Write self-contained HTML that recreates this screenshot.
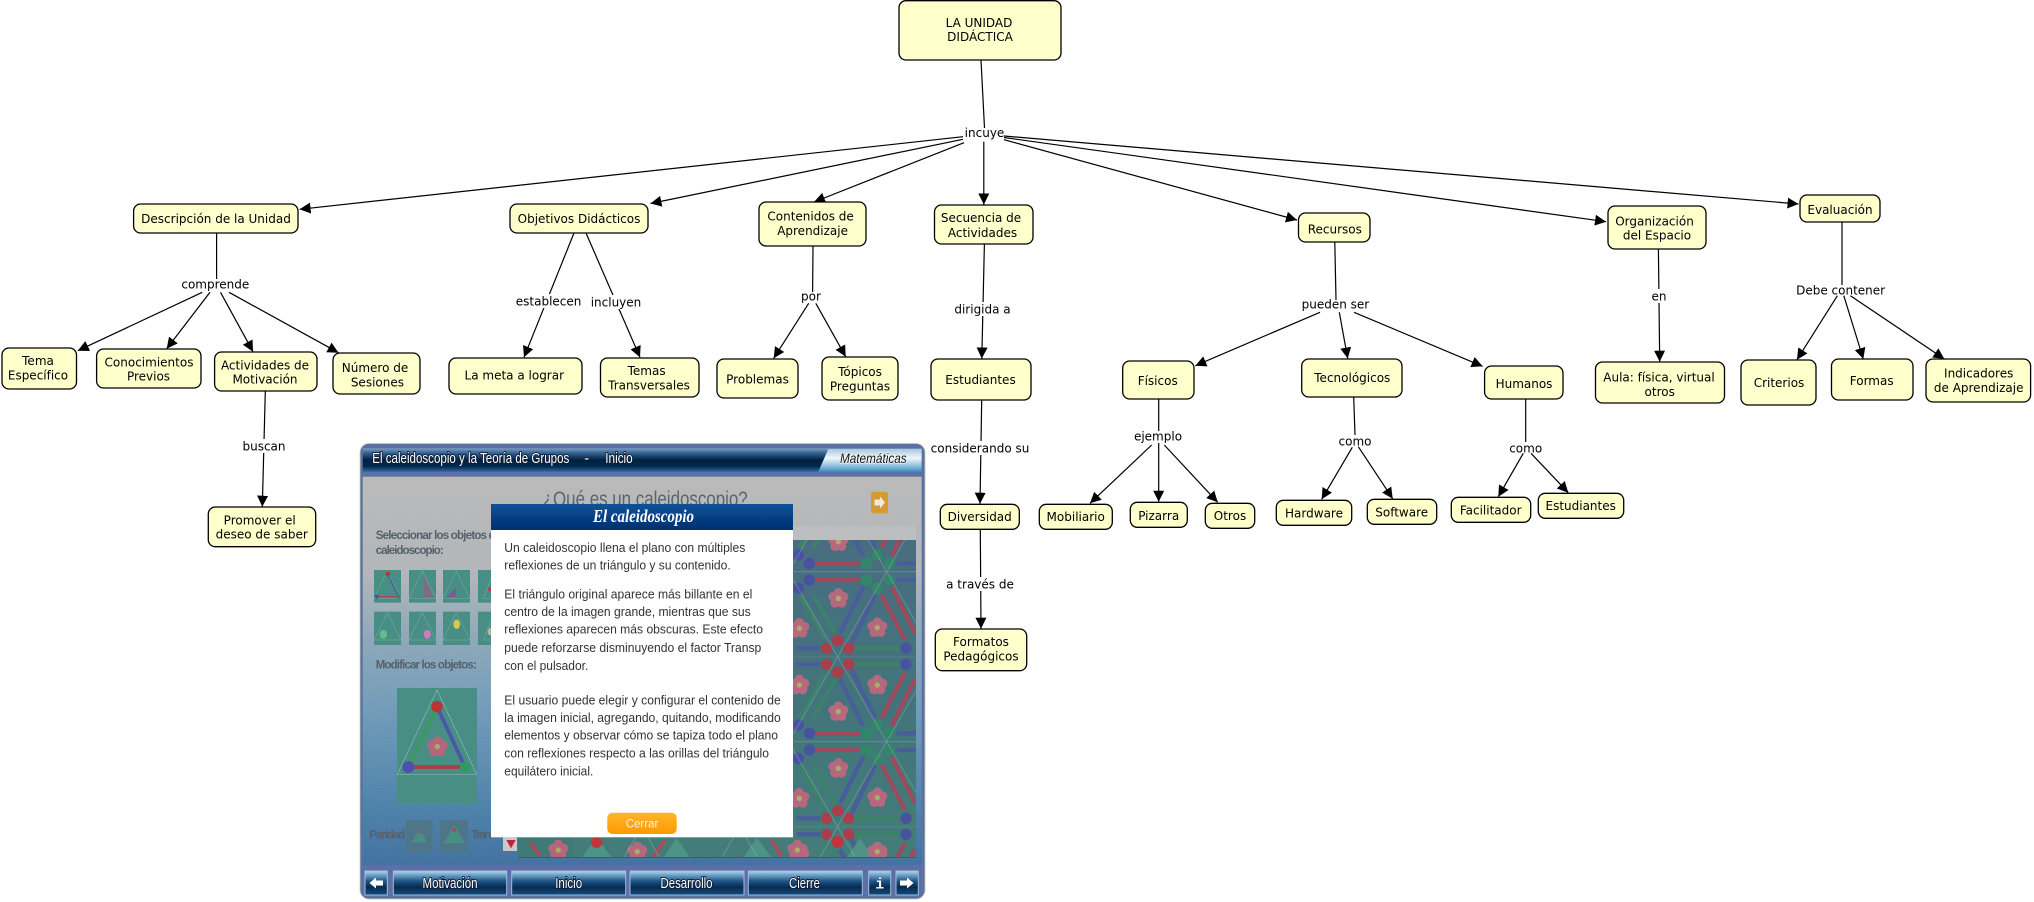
<!DOCTYPE html>
<html lang="es"><head><meta charset="utf-8"><title>La Unidad Didáctica</title>
<style>
html,body{margin:0;padding:0;background:#fff;width:2034px;height:902px;overflow:hidden}
svg{display:block}
.n rect{fill:#ffffcc;stroke:#000;stroke-width:1.3}
.t text{font-family:"DejaVu Sans",sans-serif;font-size:12px;fill:#000;text-anchor:middle}
.l line{stroke:#000;stroke-width:1.2}
.a line{stroke:#000;stroke-width:1.2;marker-end:url(#ah)}
.m text{font-family:"Liberation Sans",sans-serif;font-size:13px;fill:#333}
.g text{font-family:"Liberation Sans",sans-serif;font-size:11.5px;font-weight:bold;fill:#56616b}
.w text{font-family:"Liberation Sans",sans-serif;font-size:14.5px;fill:#fff;stroke:#0b1f38;stroke-width:1.8;paint-order:stroke;text-anchor:middle}
</style></head><body>
<svg xmlns="http://www.w3.org/2000/svg" width="2034" height="902" viewBox="0 0 2034 902">
<defs>
<filter id="sf" x="-2%" y="-2%" width="104%" height="104%"><feGaussianBlur stdDeviation=".35"/></filter>
<marker id="ah" markerUnits="userSpaceOnUse" markerWidth="12" markerHeight="12" refX="11" refY="5.5" orient="auto"><path d="M0 0L11 5.5L0 11z" fill="#000"/></marker>
<linearGradient id="hd" x1="0" y1="0" x2="0" y2="1"><stop offset="0" stop-color="#7c9fc2"/><stop offset=".22" stop-color="#2f5d8f"/><stop offset=".5" stop-color="#04223f"/><stop offset=".78" stop-color="#052a50"/><stop offset="1" stop-color="#2a6aa8"/></linearGradient>
<linearGradient id="mt" x1="0" y1="0" x2="0" y2="1"><stop offset="0" stop-color="#a9c8de"/><stop offset=".4" stop-color="#f0f6fa"/><stop offset=".75" stop-color="#8ec0dc"/><stop offset="1" stop-color="#3a8fc0"/></linearGradient>
<linearGradient id="ct" x1="0" y1="0" x2="0" y2="1"><stop offset="0" stop-color="#b8b8b8"/><stop offset=".25" stop-color="#b0b5b8"/><stop offset=".4" stop-color="#8fa8b8"/><stop offset=".6" stop-color="#6f9ab8"/><stop offset=".85" stop-color="#4c80a8"/><stop offset="1" stop-color="#3f6fa0"/></linearGradient>
<linearGradient id="bt" x1="0" y1="0" x2="0" y2="1"><stop offset="0" stop-color="#bcd6ea"/><stop offset=".12" stop-color="#7fb0d2"/><stop offset=".42" stop-color="#1d5587"/><stop offset=".68" stop-color="#062a4e"/><stop offset="1" stop-color="#114d80"/></linearGradient>
<linearGradient id="md" x1="0" y1="0" x2="0" y2="1"><stop offset="0" stop-color="#0d5299"/><stop offset="1" stop-color="#002f70"/></linearGradient>
<linearGradient id="or" x1="0" y1="0" x2="0" y2="1"><stop offset="0" stop-color="#ffb52c"/><stop offset="1" stop-color="#ff9a00"/></linearGradient>
<linearGradient id="kb" x1="0" y1="0" x2="0" y2="1"><stop offset="0" stop-color="#456b7e"/><stop offset=".5" stop-color="#3e7279"/><stop offset="1" stop-color="#3f7a76"/></linearGradient>
<pattern id="hatch" patternUnits="userSpaceOnUse" width="3" height="3"><path d="M0 3L3 0" stroke="#fff" stroke-opacity=".08" stroke-width=".7"/></pattern>
<pattern id="wl" patternUnits="userSpaceOnUse" x="5" y="155" width="294" height="510"><path d="M0 510L294 0M0 0L294 510M0 0H294M0 255H294" stroke="#c9dcdc" stroke-opacity=".3" stroke-width="2.5" fill="none"/></pattern>
<clipPath id="kc"><rect x="518" y="540" width="398" height="317.7"/></clipPath>
<g id="fl"><g fill="#b5667c"><circle cx="0" cy="-17" r="14"/><circle cx="16" cy="-5" r="14"/><circle cx="10" cy="14" r="14"/><circle cx="-10" cy="14" r="14"/><circle cx="-16" cy="-5" r="14"/></g><circle r="8" fill="#a9ac62"/></g>
<g id="per">
<g stroke-width="13" stroke-linecap="butt">
<path stroke="#9c4658" d="M525 385H660M525 435H660M725 480L795 615M755 455L825 595M725 848L795 713M755 873L825 733"/>
<path stroke="#465a98" d="M770 385H860M770 435H860M470 640H540M470 688H540M600 595L670 455M635 625L705 480M600 733L670 873M635 703L705 848"/>
<path stroke="#387f68" d="M645 640H785M645 688H785M480 480L555 610M520 480L585 595M480 848L555 718M520 848L585 733"/>
</g>
<g fill="#464f9c"><circle cx="508" cy="385" r="17"/><circle cx="508" cy="435" r="17"/><circle cx="475" cy="360" r="17"/><circle cx="475" cy="460" r="17"/><circle cx="798" cy="640" r="17"/><circle cx="798" cy="688" r="17"/></g>
<g fill="#2f8468"><circle cx="680" cy="385" r="17"/><circle cx="680" cy="435" r="17"/><circle cx="712" cy="360" r="17"/><circle cx="712" cy="460" r="17"/><circle cx="748" cy="385" r="17"/><circle cx="748" cy="435" r="17"/></g>
<g fill="#a83a4a"><circle cx="593" cy="617" r="17"/><circle cx="560" cy="640" r="17"/><circle cx="626" cy="640" r="17"/><circle cx="560" cy="688" r="17"/><circle cx="626" cy="688" r="17"/><circle cx="593" cy="712" r="17"/></g>
<use href="#fl" x="595" y="490"/><use href="#fl" x="478" y="580"/><use href="#fl" x="712" y="578"/><use href="#fl" x="478" y="750"/><use href="#fl" x="712" y="750"/><use href="#fl" x="595" y="830"/>
</g>
</defs>
<rect width="2034" height="902" fill="#fff"/>

<!-- panel -->
<g filter="url(#sf)">
<rect x="360" y="443.5" width="565" height="455.5" rx="9" fill="#5b70a8" stroke="#c8cfa0" stroke-width=".8"/>
<rect x="362.7" y="448.3" width="559" height="23.4" fill="url(#hd)"/>
<polygon points="818.3,471.7 828.3,449 921.7,449 921.7,471.7" fill="url(#mt)"/>
<rect x="362.7" y="476.7" width="559" height="388.3" fill="url(#ct)"/>
<rect x="362.7" y="476.7" width="559" height="388.3" fill="url(#hatch)"/>
<g class="w"><text x="470.8" y="463" textLength="197" lengthAdjust="spacingAndGlyphs">El caleidoscopio y la Teoría de Grupos</text><text x="586.7" y="463">-</text><text x="619" y="463" textLength="27.4" lengthAdjust="spacingAndGlyphs">Inicio</text></g>
<text x="873.3" y="463" textLength="66.7" lengthAdjust="spacingAndGlyphs" text-anchor="middle" font-family="Liberation Sans" font-style="italic" font-size="14" fill="#111" stroke="#fff" stroke-width="1.2" paint-order="stroke">Matemáticas</text>
<text x="542.7" y="506" textLength="205" lengthAdjust="spacingAndGlyphs" font-family="Liberation Sans" font-size="21" fill="#5a656e">¿Qué es un caleidoscopio?</text>
<rect x="871" y="491.7" width="17" height="21.6" rx="2.5" fill="#d69a35"/>
<path d="M874.5 499.5H880V496.5L885 502.5L880 508.5V505.5H874.5z" fill="#f2e8d8"/>
<rect x="793" y="526" width="123" height="14" fill="#c3c3c3" opacity=".5"/>
<g class="g"><text x="375.7" y="539" textLength="120" lengthAdjust="spacing">Seleccionar los objetos d</text><text x="375.7" y="554" textLength="68" lengthAdjust="spacing">caleidoscopio:</text><text x="375.7" y="668.5" textLength="101" lengthAdjust="spacing">Modificar los objetos:</text><text x="369.3" y="838.5" textLength="36" lengthAdjust="spacing">Paridad</text><text x="471.3" y="838.5" textLength="20" lengthAdjust="spacing">Tran</text></g>
<g transform="translate(350 435) scale(.33333)">
<g fill="#4a8e85"><rect x="72" y="405" width="81" height="98"/><rect x="177" y="405" width="81" height="98"/><rect x="279" y="405" width="81" height="98"/><rect x="384" y="405" width="39" height="98"/><rect x="72" y="530" width="81" height="100"/><rect x="177" y="530" width="81" height="100"/><rect x="279" y="530" width="81" height="100"/><rect x="384" y="530" width="39" height="100"/></g>
<g fill="none" stroke="#a8c8c0" stroke-width="1.4" stroke-opacity=".6"><path d="M112 408L72 490H153z"/><path d="M217 408L177 490H258z"/><path d="M319 408L279 490H360z"/><path d="M423 432L400 490H423"/><path d="M112 533L72 615H153z"/><path d="M217 533L177 615H258z"/><path d="M319 533L279 615H360z"/><path d="M423 557L400 615H423"/></g>
<path d="M113 417L80 485" stroke="#3a9a70" stroke-width="4"/><path d="M113 417L146 485" stroke="#4d5fa0" stroke-width="4"/><path d="M80 485H146" stroke="#a84858" stroke-width="4"/><circle cx="113" cy="417" r="7" fill="#b8353f"/><circle cx="80" cy="485" r="6" fill="#4a4fa3"/><circle cx="146" cy="485" r="6" fill="#2f8a6b"/>
<polygon points="222,422 250,486 222,486" fill="#806a86"/><polygon points="318,458 318,486 290,486" fill="#7a5c9a"/><circle cx="420" cy="463" r="7" fill="#a84858"/>
<ellipse cx="100" cy="598" rx="11" ry="13" fill="#5fc08c"/><ellipse cx="232" cy="598" rx="11" ry="13" fill="#d07ac0"/><ellipse cx="320" cy="568" rx="10" ry="14" fill="#d8c850"/><ellipse cx="420" cy="590" rx="7" ry="11" fill="#b0b8a8"/>
<rect x="141" y="759" width="240" height="349" fill="#4a8e85"/>
<path d="M261 765L142 1018H380z" fill="none" stroke="#c8dcd4" stroke-width="1.6" stroke-dasharray="4 2"/>
<path d="M261 815L175 996" stroke="#3a9a60" stroke-width="11"/><path d="M261 815L345 996" stroke="#4d55a8" stroke-width="11"/><path d="M175 996H345" stroke="#b53a48" stroke-width="11"/>
<circle cx="261" cy="815" r="17" fill="#c03038"/><circle cx="175" cy="996" r="18" fill="#5050b0"/><circle cx="345" cy="996" r="16" fill="#2f9a62"/>
<use href="#fl" x="262" y="935"/>
<rect x="168" y="1155" width="80" height="97" fill="#4f7488"/><rect x="270" y="1155" width="84" height="97" fill="#4f7488"/><path d="M208 1180L185 1222H232z" fill="#4a8e85"/><path d="M312 1170L280 1225H345z" fill="#4a8e85"/><circle cx="208" cy="1190" r="5" fill="#a84858"/><circle cx="312" cy="1185" r="6" fill="#a84858"/>
<rect x="459" y="1207" width="42" height="41" fill="#c9c9c9"/><polygon points="469,1215 497,1215 483,1240" fill="#c0243a"/>
</g>
<!-- kaleidoscope -->
<rect x="518" y="540" width="398" height="317.7" fill="url(#kb)"/>
<g clip-path="url(#kc)"><g transform="translate(640 435) scale(.33333)">
<use href="#per" y="-510"/><use href="#per"/><use href="#per" y="510"/>
<polygon points="70,1268 110,1208 150,1268" fill="#4b9183"/><polygon points="310,1268 350,1208 395,1268" fill="#4b9183"/><polygon points="-175,1268 -130,1208 -85,1268" fill="#4b9183"/><polygon points="620,1268 660,1210 700,1268" fill="#4b9183"/>
<path d="M40 1265L75 1215M395 1215L425 1265M-330 1222L-300 1262" stroke="#a84858" stroke-width="11"/>
<circle cx="-130" cy="1222" r="17" fill="#c03038"/><circle cx="593" cy="1220" r="17" fill="#c03038"/>
<use href="#fl" x="-245" y="1245"/><use href="#fl" x="-8" y="1250"/><use href="#fl" x="472" y="1245"/><use href="#fl" x="712" y="1250"/>
<rect x="-200" y="140" width="1100" height="1180" fill="url(#wl)"/>
<rect x="-200" y="140" width="1100" height="1180" fill="url(#hatch)"/>
</g></g>
<rect x="518" y="857" width="398" height="1" fill="#3c5a70"/>
<!-- modal -->
<rect x="491" y="504" width="302" height="333.3" fill="#fff"/>
<rect x="491" y="504" width="302" height="26" fill="url(#md)"/>
<text x="643.5" y="522" text-anchor="middle" textLength="101" lengthAdjust="spacingAndGlyphs" font-family="Liberation Serif" font-weight="bold" font-style="italic" font-size="18" fill="#fff">El caleidoscopio</text>
<g class="m">
<text x="504.3" y="552" textLength="241" lengthAdjust="spacingAndGlyphs">Un caleidoscopio llena el plano con múltiples</text>
<text x="504.3" y="569.3" textLength="226.4" lengthAdjust="spacingAndGlyphs">reflexiones de un triángulo y su contenido.</text>
<text x="504.3" y="598.6" textLength="248" lengthAdjust="spacingAndGlyphs">El triángulo original aparece más billante en el</text>
<text x="504.3" y="616" textLength="246.4" lengthAdjust="spacingAndGlyphs">centro de la imagen grande, mientras que sus</text>
<text x="504.3" y="633.6" textLength="258.7" lengthAdjust="spacingAndGlyphs">reflexiones aparecen más obscuras. Este efecto</text>
<text x="504.3" y="652" textLength="257" lengthAdjust="spacingAndGlyphs">puede reforzarse disminuyendo el factor Transp</text>
<text x="504.3" y="670" textLength="84" lengthAdjust="spacingAndGlyphs">con el pulsador.</text>
<text x="504.3" y="704.3" textLength="276.4" lengthAdjust="spacingAndGlyphs">El usuario puede elegir y configurar el contenido de</text>
<text x="504.3" y="722" textLength="276.4" lengthAdjust="spacingAndGlyphs">la imagen inicial, agregando, quitando, modificando</text>
<text x="504.3" y="739.3" textLength="273.7" lengthAdjust="spacingAndGlyphs">elementos y observar cómo se tapiza todo el plano</text>
<text x="504.3" y="757.6" textLength="264.7" lengthAdjust="spacingAndGlyphs">con reflexiones respecto a las orillas del triángulo</text>
<text x="504.3" y="775.3" textLength="89" lengthAdjust="spacingAndGlyphs">equilátero inicial.</text>
</g>
<rect x="607.3" y="812.7" width="69.4" height="21.3" rx="5" fill="url(#or)"/>
<text x="642" y="827.5" text-anchor="middle" font-family="Liberation Sans" font-size="11.5" fill="#fff3d8">Cerrar</text>
<!-- nav -->
<g stroke="#a4bbd8" stroke-width="1" fill="url(#bt)">
<rect x="365" y="871" width="22.3" height="24"/><rect x="393.3" y="871" width="113.4" height="24"/><rect x="511.7" y="871" width="114" height="24"/><rect x="630" y="871" width="114" height="24"/><rect x="748.3" y="871" width="114" height="24"/><rect x="868.7" y="871" width="22" height="24"/><rect x="896" y="871" width="22.3" height="24"/>
</g>
<path d="M369.5 883L376 877.5V880.5H383V885.5H376V888.5z" fill="#fff"/><path d="M913.5 883L907 877.5V880.5H900V885.5H907V888.5z" fill="#fff"/>
<g class="w"><text x="450" y="888" textLength="55" lengthAdjust="spacingAndGlyphs">Motivación</text><text x="568.7" y="888" textLength="27" lengthAdjust="spacingAndGlyphs">Inicio</text><text x="686.5" y="888" textLength="52" lengthAdjust="spacingAndGlyphs">Desarrollo</text><text x="804.5" y="888" textLength="31" lengthAdjust="spacingAndGlyphs">Cierre</text></g>
<text x="879.7" y="888.5" text-anchor="middle" font-family="Liberation Mono" font-weight="bold" font-size="15" fill="#fff">i</text>
</g>

<!-- plain connectors -->
<g class="l">
<line x1="981" y1="60" x2="984.5" y2="128"/>
<line x1="216.6" y1="233" x2="216.6" y2="279"/>
<line x1="813" y1="246" x2="812.6" y2="292"/>
<line x1="1334.8" y1="242" x2="1336" y2="300"/>
<line x1="1842" y1="222" x2="1842" y2="285"/>
<line x1="1158.7" y1="399" x2="1158.7" y2="431"/>
<line x1="1353.7" y1="397" x2="1355" y2="435"/>
<line x1="1525.7" y1="399" x2="1525.7" y2="442"/>
</g>
<!-- arrows -->
<g class="a">
<line x1="963" y1="136.7" x2="299.6" y2="209.3"/>
<line x1="963" y1="139.3" x2="650.5" y2="203.5"/>
<line x1="964" y1="142.7" x2="814" y2="202"/>
<line x1="983.8" y1="141.7" x2="983.8" y2="204.5"/>
<line x1="1004" y1="139.7" x2="1297" y2="220"/>
<line x1="1004" y1="137.5" x2="1606" y2="221.7"/>
<line x1="1004" y1="136" x2="1798.5" y2="204"/>
<line x1="202.3" y1="292.3" x2="77.8" y2="350.7"/>
<line x1="210" y1="292.3" x2="166.7" y2="348.7"/>
<line x1="220.5" y1="292.3" x2="253" y2="351.7"/>
<line x1="229" y1="292.3" x2="338.5" y2="352.7"/>
<line x1="574" y1="233" x2="524" y2="357.3"/>
<line x1="586" y1="233" x2="640" y2="357.3"/>
<line x1="808.7" y1="303.3" x2="773.7" y2="358.3"/>
<line x1="815.8" y1="303.3" x2="845.7" y2="356.7"/>
<line x1="984.4" y1="244" x2="981.8" y2="358.5"/>
<line x1="265.3" y1="391.5" x2="262.3" y2="506.7"/>
<line x1="981.7" y1="400" x2="980" y2="503.7"/>
<line x1="980.3" y1="529" x2="981" y2="628.7"/>
<line x1="1320" y1="312.3" x2="1195.3" y2="365.7"/>
<line x1="1339.3" y1="312.3" x2="1347.7" y2="358.5"/>
<line x1="1354" y1="312.3" x2="1482.6" y2="366.3"/>
<line x1="1658.4" y1="249" x2="1659.7" y2="361.7"/>
<line x1="1837.4" y1="295.7" x2="1797" y2="359.7"/>
<line x1="1843.8" y1="295.7" x2="1863.3" y2="359"/>
<line x1="1850.4" y1="295.7" x2="1944.4" y2="359"/>
<line x1="1151.7" y1="445" x2="1090" y2="503.3"/>
<line x1="1158.7" y1="443" x2="1158.7" y2="501.7"/>
<line x1="1164.3" y1="445" x2="1217.7" y2="502.3"/>
<line x1="1352.3" y1="447.3" x2="1321.7" y2="499.3"/>
<line x1="1358.3" y1="446.7" x2="1392.7" y2="498.7"/>
<line x1="1523.3" y1="453.3" x2="1498.3" y2="496.7"/>
<line x1="1531" y1="453.3" x2="1568.3" y2="492.7"/>
</g>
<!-- label backgrounds -->
<g fill="#fff">
<rect x="516" y="294" width="66" height="14"/><rect x="591" y="295" width="50" height="14"/>
<rect x="952" y="302" width="60" height="14"/><rect x="240" y="439" width="48" height="14"/>
<rect x="930" y="441" width="100" height="14"/><rect x="944" y="577" width="72" height="14"/>
<rect x="1650" y="289" width="18" height="14"/>
</g>
<!-- nodes -->
<g class="n">
<rect x="899" y="0.7" width="162" height="59.3" rx="7"/>
<rect x="133.6" y="204" width="164.4" height="29" rx="7"/>
<rect x="510" y="204" width="138" height="29" rx="7"/>
<rect x="759" y="202" width="107" height="44" rx="7"/>
<rect x="934.5" y="205" width="98.5" height="39" rx="7"/>
<rect x="1298.5" y="213" width="71.5" height="29" rx="7"/>
<rect x="1608" y="206" width="98" height="43" rx="7"/>
<rect x="1800" y="195" width="80" height="27" rx="7"/>
<rect x="2" y="348" width="74.5" height="41" rx="7"/>
<rect x="96.6" y="349" width="104.4" height="39" rx="7"/>
<rect x="214.6" y="352" width="102.4" height="39" rx="7"/>
<rect x="333" y="353" width="87" height="41" rx="7"/>
<rect x="449" y="358" width="133" height="36" rx="7"/>
<rect x="600.5" y="358" width="98.5" height="39" rx="7"/>
<rect x="717" y="359" width="81" height="39" rx="7"/>
<rect x="822" y="357" width="76" height="43" rx="7"/>
<rect x="931" y="359" width="100" height="41" rx="7"/>
<rect x="1122.7" y="361" width="71.3" height="38" rx="7"/>
<rect x="1301.7" y="359" width="100.3" height="38" rx="7"/>
<rect x="1484.6" y="366" width="78.4" height="33" rx="7"/>
<rect x="1595.5" y="362" width="129" height="41" rx="7"/>
<rect x="1741" y="360" width="75" height="45" rx="7"/>
<rect x="1831.5" y="359" width="81.5" height="41" rx="7"/>
<rect x="1926" y="359" width="104.6" height="43" rx="7"/>
<rect x="208.3" y="507" width="107.4" height="39.7" rx="7"/>
<rect x="940.3" y="504.3" width="79" height="25" rx="7"/>
<rect x="935.3" y="629" width="91.4" height="41.7" rx="7"/>
<rect x="1039.3" y="504.3" width="73" height="25" rx="7"/>
<rect x="1130.3" y="502.3" width="57" height="25" rx="7"/>
<rect x="1205.3" y="503.3" width="49.4" height="25" rx="7"/>
<rect x="1276.3" y="500.3" width="75.4" height="25" rx="7"/>
<rect x="1367.3" y="499.3" width="69.4" height="25" rx="7"/>
<rect x="1451.3" y="497.3" width="79.4" height="25" rx="7"/>
<rect x="1538.3" y="493.3" width="85.4" height="25" rx="7"/>
</g>
<!-- text -->
<g class="t">
<text x="979" y="27">LA UNIDAD</text><text x="980" y="41">DIDÁCTICA</text>
<text x="216" y="223">Descripción de la Unidad</text>
<text x="579" y="223">Objetivos Didácticos</text>
<text x="810.6" y="220.4">Contenidos de</text><text x="812.6" y="235">Aprendizaje</text>
<text x="981" y="222">Secuencia de</text><text x="982.5" y="237">Actividades</text>
<text x="1334.8" y="233.4">Recursos</text>
<text x="1654.5" y="225.4">Organización</text><text x="1657" y="239.7">del Espacio</text>
<text x="1840" y="214">Evaluación</text>
<text x="38" y="365">Tema</text><text x="38" y="379.7">Específico</text>
<text x="149" y="366.4">Conocimientos</text><text x="148.5" y="380.7">Previos</text>
<text x="265" y="369.4">Actividades de</text><text x="265" y="383.7">Motivación</text>
<text x="375" y="372">Número de</text><text x="377.4" y="386.7">Sesiones</text>
<text x="514.3" y="379.4">La meta a lograr</text>
<text x="646.6" y="375">Temas</text><text x="649" y="389.7">Transversales</text>
<text x="757.5" y="383.4">Problemas</text>
<text x="860" y="376">Tópicos</text><text x="860" y="390.7">Preguntas</text>
<text x="980.5" y="384">Estudiantes</text>
<text x="1157.7" y="385">Físicos</text>
<text x="1352.3" y="382">Tecnológicos</text>
<text x="1524" y="388">Humanos</text>
<text x="1659" y="381.4">Aula: física, virtual</text><text x="1659.7" y="396">otros</text>
<text x="1779" y="387">Criterios</text>
<text x="1871.7" y="385">Formas</text>
<text x="1978.7" y="377.4">Indicadores</text><text x="1978.7" y="392">de Aprendizaje</text>
<text x="259.7" y="524.4">Promover el</text><text x="261.7" y="538.7">deseo de saber</text>
<text x="979.7" y="521">Diversidad</text>
<text x="981" y="646">Formatos</text><text x="981" y="660.4">Pedagógicos</text>
<text x="1075.7" y="521">Mobiliario</text>
<text x="1158.7" y="520">Pizarra</text>
<text x="1230" y="520">Otros</text>
<text x="1314" y="517.4">Hardware</text>
<text x="1401.7" y="516.4">Software</text>
<text x="1490.7" y="514.4">Facilitador</text>
<text x="1580.7" y="510">Estudiantes</text>
<!-- link labels -->
<text x="984.5" y="137">incuye</text>
<text x="215.3" y="288.4">comprende</text>
<text x="548.6" y="305.4">establecen</text>
<text x="616" y="306.4">incluyen</text>
<text x="811" y="300.4">por</text>
<text x="982.5" y="313.4">dirigida a</text>
<text x="1335.4" y="308.7">pueden ser</text>
<text x="1659" y="300.4">en</text>
<text x="1840.6" y="294.4">Debe contener</text>
<text x="264" y="450.4">buscan</text>
<text x="980" y="452.4">considerando su</text>
<text x="980" y="588.4">a través de</text>
<text x="1158" y="440.4">ejemplo</text>
<text x="1355" y="445.4">como</text>
<text x="1525.7" y="452.4">como</text>
</g>
</svg>
</body></html>
